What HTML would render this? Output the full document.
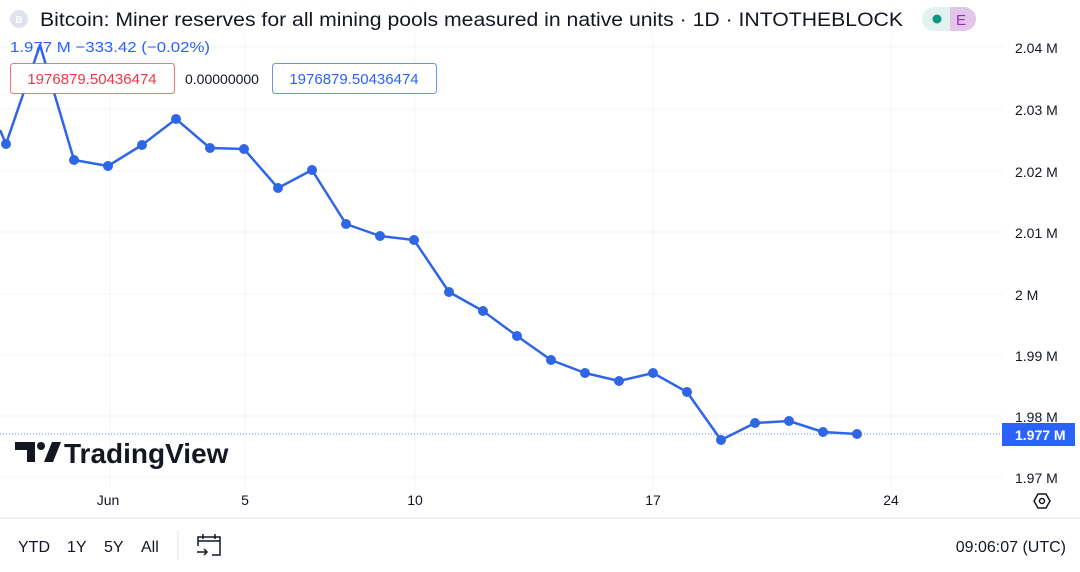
<!DOCTYPE html>
<html><head><meta charset="utf-8"><style>
html,body{margin:0;padding:0;background:#fff;}
body{width:1080px;height:572px;position:relative;overflow:hidden;font-family:"Liberation Sans","DejaVu Sans",sans-serif;}
svg{position:absolute;left:0;top:0;}
</style></head><body>
<svg width="1080" height="572" viewBox="0 0 1080 572" xmlns="http://www.w3.org/2000/svg" font-family="Liberation Sans, DejaVu Sans, sans-serif">
<g stroke="#f2f3f5" stroke-width="1">
<line x1="0" y1="47" x2="1003" y2="47"/><line x1="0" y1="109" x2="1003" y2="109"/>
<line x1="0" y1="171" x2="1003" y2="171"/><line x1="0" y1="232" x2="1003" y2="232"/>
<line x1="0" y1="294" x2="1003" y2="294"/><line x1="0" y1="355" x2="1003" y2="355"/>
<line x1="0" y1="416" x2="1003" y2="416"/><line x1="0" y1="477" x2="1003" y2="477"/>
<line x1="110" y1="0" x2="110" y2="487"/><line x1="245" y1="0" x2="245" y2="487"/>
<line x1="415" y1="0" x2="415" y2="487"/><line x1="653" y1="0" x2="653" y2="487"/>
<line x1="891" y1="0" x2="891" y2="487"/>
</g>
<line x1="0" y1="518" x2="1080" y2="518" stroke="#e0e3eb"/>
<line x1="0" y1="434" x2="1003" y2="434" stroke="#2962ff" stroke-width="1" stroke-dasharray="1,2" opacity="0.7"/>
<polyline fill="none" stroke="#2f66e6" stroke-width="2.5" stroke-linejoin="round"
points="0,130 6,144 40,45 74,160 108,166 142,145 176,119 210,148 244,149 278,188 312,170 346,224 380,236 414,240 449,292 483,311 517,336 551,360 585,373 619,381 653,373 687,392 721,440 755,423 789,421 823,432 857,434"/>
<g fill="#2f66e6">
<circle cx="6" cy="144" r="5"/><circle cx="74" cy="160" r="5"/><circle cx="108" cy="166" r="5"/><circle cx="142" cy="145" r="5"/><circle cx="176" cy="119" r="5"/><circle cx="210" cy="148" r="5"/><circle cx="244" cy="149" r="5"/><circle cx="278" cy="188" r="5"/><circle cx="312" cy="170" r="5"/><circle cx="346" cy="224" r="5"/><circle cx="380" cy="236" r="5"/><circle cx="414" cy="240" r="5"/><circle cx="449" cy="292" r="5"/><circle cx="483" cy="311" r="5"/><circle cx="517" cy="336" r="5"/><circle cx="551" cy="360" r="5"/><circle cx="585" cy="373" r="5"/><circle cx="619" cy="381" r="5"/><circle cx="653" cy="373" r="5"/><circle cx="687" cy="392" r="5"/><circle cx="721" cy="440" r="5"/><circle cx="755" cy="423" r="5"/><circle cx="789" cy="421" r="5"/><circle cx="823" cy="432" r="5"/><circle cx="857" cy="434" r="5"/>
</g>
<!-- header -->
<rect x="0" y="0" width="905" height="38" fill="#fff" opacity="0.85"/>
<circle cx="19" cy="19" r="9" fill="#e0e3eb"/><text x="19" y="23" font-size="10" fill="#fff" text-anchor="middle" font-weight="bold">B</text>
<text x="40" y="26" font-size="19" fill="#131722" textLength="863" lengthAdjust="spacingAndGlyphs">Bitcoin: Miner reserves for all mining pools measured in native units · 1D · INTOTHEBLOCK</text>
<rect x="922" y="7" width="54" height="24" rx="12" fill="#e3f2ef"/>
<path d="M950 7 h14 a12 12 0 0 1 0 24 h-14z" fill="#e1c6ea"/>
<circle cx="937" cy="19" r="4.5" fill="#089981"/>
<text x="961" y="25" font-size="15" fill="#9c27b0" text-anchor="middle">E</text>
<text x="10" y="52" font-size="15" fill="#2962ff" textLength="200" lengthAdjust="spacingAndGlyphs">1.977 M  −333.42 (−0.02%)</text>
<rect x="10.5" y="63.5" width="164" height="30" rx="3" fill="#fff" stroke="#f23645" stroke-opacity="0.7"/>
<text x="92" y="84" font-size="15" fill="#f23645" text-anchor="middle">1976879.50436474</text>
<text x="185" y="84" font-size="14" fill="#131722">0.00000000</text>
<rect x="272.5" y="63.5" width="164" height="30" rx="3" fill="#fff" stroke="#2962ff" stroke-opacity="0.7"/>
<text x="354" y="84" font-size="15" fill="#2962ff" text-anchor="middle">1976879.50436474</text>
<!-- right axis -->
<g font-size="14" fill="#131722">
<text x="1015" y="53">2.04 M</text><text x="1015" y="115">2.03 M</text><text x="1015" y="177">2.02 M</text>
<text x="1015" y="238">2.01 M</text><text x="1015" y="300">2 M</text><text x="1015" y="361">1.99 M</text>
<text x="1015" y="422">1.98 M</text><text x="1015" y="483">1.97 M</text>
</g>
<rect x="1002" y="423" width="73" height="23" fill="#2962ff"/>
<text x="1015" y="440" font-size="14" fill="#fff" font-weight="bold">1.977 M</text>
<!-- watermark -->
<g fill="#131722">
<path d="M15 442 h20 v20 h-8 v-12 h-12z"/><circle cx="41" cy="446" r="4"/><path d="M44 462 l8-20 h9 l-8 20z"/>
</g>
<text x="64" y="463" font-size="28" font-weight="bold" fill="#131722">TradingView</text>
<!-- x axis -->
<g font-size="14" fill="#131722" text-anchor="middle">
<text x="108" y="505">Jun</text><text x="245" y="505">5</text><text x="415" y="505">10</text>
<text x="653" y="505">17</text><text x="891" y="505">24</text>
</g>
<path d="M1034 501 l4-7 h8 l4 7 l-4 7 h-8z" fill="none" stroke="#131722" stroke-width="1.5"/>
<circle cx="1042" cy="501" r="2.5" fill="none" stroke="#131722" stroke-width="1.5"/>
<!-- bottom toolbar -->
<g font-size="16" fill="#131722">
<text x="18" y="552">YTD</text><text x="67" y="552">1Y</text><text x="104" y="552">5Y</text><text x="141" y="552">All</text>
<text x="1066" y="552" text-anchor="end">09:06:07 (UTC)</text>
</g>
<line x1="178" y1="530" x2="178" y2="560" stroke="#e0e3eb"/>
<g fill="none" stroke="#131722" stroke-width="1.5">
<path d="M198 546 v-9 h22 v18 h-8"/><line x1="198" y1="541" x2="220" y2="541"/>
<line x1="203" y1="534" x2="203" y2="539"/><line x1="215" y1="534" x2="215" y2="539"/>
<path d="M197 552 h10 m-3 -3 l3 3 l-3 3"/>
</g>
</svg>
</body></html>
